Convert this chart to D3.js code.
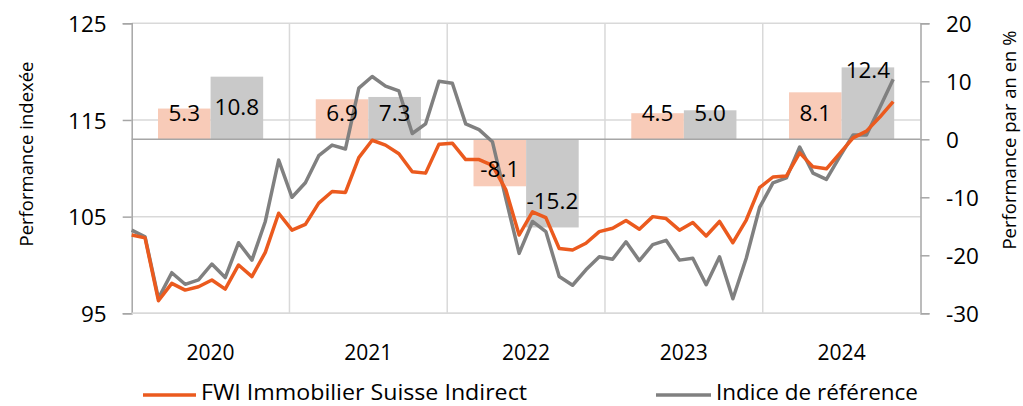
<!DOCTYPE html>
<html>
<head>
<meta charset="utf-8">
<script src="https://cdn.jsdelivr.net/npm/d3@7"></script>
<style>
  html, body { margin: 0; padding: 0; background: #ffffff; }
  svg { display: block; }
  text { font-family: "Open Sans", "Noto Sans", sans-serif; fill: #000; }
</style>
</head>
<body>
<svg id="chart" width="1023" height="406"></svg>
<script>
// ---------------- data ----------------
const years = ["2020", "2021", "2022", "2023", "2024"];
const fwiAnnual = [5.3, 6.9, -8.1, 4.5, 8.1];
const refAnnual = [10.8, 7.3, -15.2, 5.0, 12.4];

const fwiIndex = [
  103.1, 102.8, 96.3, 98.1, 97.4, 97.75, 98.45, 97.5, 100.0, 98.8, 101.3, 105.35,
  103.6, 104.2, 106.4, 107.6, 107.5, 111.1, 112.9, 112.4, 111.5, 109.65, 109.5, 112.5,
  112.6, 110.9, 110.9, 110.3, 107.8, 103.1, 105.5, 104.9, 101.7, 101.55, 102.25, 103.45,
  103.8, 104.6, 103.7, 105.0, 104.8, 103.6, 104.4, 103.0, 104.5, 102.3, 104.65, 108.0,
  109.1, 109.2, 111.6, 110.15, 109.95, 111.55, 113.15, 113.85, 115.3, 116.9
];
const refIndex = [
  103.6, 102.9, 96.55, 99.2, 98.0, 98.45, 100.1, 98.7, 102.3, 100.5, 104.5, 110.85,
  107.0, 108.5, 111.3, 112.4, 112.0, 118.3, 119.5, 118.5, 118.0, 113.6, 114.6, 119.0,
  118.8, 114.6, 114.0, 112.75, 106.9, 101.2, 104.5, 103.45, 98.8, 97.9, 99.5, 100.85,
  100.6, 102.4, 100.45, 102.1, 102.55, 100.5, 100.7, 97.95, 100.85, 96.5, 100.7, 105.95,
  108.5, 109.0, 112.2, 109.5, 108.85, 111.2, 113.45, 113.45, 116.3, 119.2
];

const leftTicks = [95, 105, 115, 125];
const rightTicks = [-30, -20, -10, 0, 10, 20];

const seriesNames = ["FWI Immobilier Suisse Indirect", "Indice de référence"];
const leftTitle = "Performance indexée";
const rightTitle = "Performance par an en %";

// ---------------- layout (not data) ----------------
const L = 131.7, R = 920.5, T = 23.3, B = 313.3;
const lastPointX = 893.2;
const colors = { fwi: "#EB5A1E", ref: "#808080", fwiBar: "#F8CBB8", refBar: "#C9C9C9" };
// vertical anchor of each bar label, in right-axis units
const labelAnchorFwi = [4.6, 4.6, -5.1, 4.6, 4.6];
const labelAnchorRef = [5.6, 4.6, -10.7, 4.6, 12.0];
const FS = 22.5;

const svg = d3.select("#chart");

const yL = d3.scaleLinear().domain([95, 125]).range([B, T]);
const yR = d3.scaleLinear().domain([-30, 20]).range([B, T]);
const xi = d3.scaleLinear().domain([0, fwiIndex.length - 1]).range([L, lastPointX]);
const xYear = d3.scaleBand().domain(years).range([L, R]).paddingInner(0).paddingOuter(0);
const xSeries = d3.scaleBand().domain(["fwi", "ref"]).range([0, xYear.bandwidth()]).paddingInner(0).paddingOuter(0.5);

// ---------------- grid ----------------
const grid = svg.append("g");
grid.selectAll("line.h").data(leftTicks).join("line")
  .attr("x1", L).attr("x2", R)
  .attr("y1", d => yL(d)).attr("y2", d => yL(d))
  .attr("stroke", "#d9d9d9").attr("stroke-width", 1.5);
grid.selectAll("line.v").data(years.slice(1)).join("line")
  .attr("x1", d => xYear(d)).attr("x2", d => xYear(d))
  .attr("y1", T).attr("y2", B)
  .attr("stroke", "#d9d9d9").attr("stroke-width", 1.5);

// ---------------- bars ----------------
const barData = [];
years.forEach((y, i) => {
  barData.push({ year: y, key: "fwi", v: fwiAnnual[i], anchor: labelAnchorFwi[i] });
  barData.push({ year: y, key: "ref", v: refAnnual[i], anchor: labelAnchorRef[i] });
});
svg.append("g").selectAll("rect").data(barData).join("rect")
  .attr("x", d => xYear(d.year) + xSeries(d.key))
  .attr("width", xSeries.bandwidth())
  .attr("y", d => yR(Math.max(0, d.v)))
  .attr("height", d => Math.abs(yR(d.v) - yR(0)))
  .attr("fill", d => d.key === "fwi" ? colors.fwiBar : colors.refBar);

// zero line of the right axis
svg.append("line")
  .attr("x1", L).attr("x2", R).attr("y1", yR(0)).attr("y2", yR(0))
  .attr("stroke", "#a6a6a6").attr("stroke-width", 1.5);

// ---------------- axes ----------------
const axisColor = "#a6a6a6";
const gL = svg.append("g").attr("transform", `translate(${L},0)`)
  .call(d3.axisLeft(yL).tickValues(leftTicks).tickSize(9).tickFormat(d3.format("d")));
const gR = svg.append("g").attr("transform", `translate(${R},0)`)
  .call(d3.axisRight(yR).tickValues(rightTicks).tickSize(9).tickFormat(d => d3.format("d")(d).replace("−", "-")));
[gL, gR].forEach(g => {
  g.select(".domain").attr("stroke", axisColor).attr("stroke-width", 1.5);
  g.selectAll(".tick line").attr("stroke", axisColor).attr("stroke-width", 1.5);
  g.selectAll(".tick text").attr("font-size", FS).attr("font-family", "Open Sans").attr("fill", "#000").attr("dy", "0.36em");
});
gL.selectAll(".tick text").attr("x", -25);
gR.selectAll(".tick text").attr("x", 25.5);
// bottom line
svg.append("line").attr("x1", L).attr("x2", R).attr("y1", B).attr("y2", B)
  .attr("stroke", "#d9d9d9").attr("stroke-width", 1.5);

// year labels
const gX = svg.append("g").attr("transform", `translate(0,${B})`)
  .call(d3.axisBottom(xYear).tickSize(0).tickPadding(0));
gX.select(".domain").remove();
gX.selectAll(".tick text").attr("font-size", 21).attr("font-family", "Open Sans")
  .attr("fill", "#000").attr("y", 47).attr("dy", 0);

// ---------------- lines ----------------
const line = d3.line().x((d, i) => xi(i)).y(d => yL(d));
svg.append("path").datum(refIndex).attr("d", line)
  .attr("fill", "none").attr("stroke", colors.ref).attr("stroke-width", 3.5).attr("stroke-linejoin", "round");
svg.append("path").datum(fwiIndex).attr("d", line)
  .attr("fill", "none").attr("stroke", colors.fwi).attr("stroke-width", 3.5).attr("stroke-linejoin", "round");

// ---------------- bar labels ----------------
svg.append("g").selectAll("text").data(barData).join("text")
  .attr("x", d => xYear(d.year) + xSeries(d.key) + xSeries.bandwidth() / 2)
  .attr("y", d => yR(d.anchor) + 0.36 * FS)
  .attr("text-anchor", "middle")
  .attr("font-size", FS)
  .text(d => d3.format(".1f")(d.v).replace("−", "-"));

// ---------------- titles ----------------
svg.append("text")
  .attr("transform", "translate(33,154) rotate(-90)")
  .attr("text-anchor", "middle").attr("font-size", 18.5)
  .text(leftTitle);
svg.append("text")
  .attr("transform", "translate(1016,140) rotate(-90)")
  .attr("text-anchor", "middle").attr("font-size", 18.5)
  .text(rightTitle);

// ---------------- legend ----------------
const legend = svg.append("g");
const legendItems = [
  { name: seriesNames[0], color: colors.fwi, x1: 143, x2: 196, tx: 201, w: 326 },
  { name: seriesNames[1], color: colors.ref, x1: 656, x2: 711, tx: 716, w: 202 }
];
legendItems.forEach(it => {
  legend.append("line").attr("x1", it.x1).attr("x2", it.x2).attr("y1", 395).attr("y2", 395)
    .attr("stroke", it.color).attr("stroke-width", 3.5);
  legend.append("text").attr("x", it.tx).attr("y", 399.5).attr("font-size", 21.5)
    .attr("textLength", it.w).attr("lengthAdjust", "spacingAndGlyphs")
    .text(it.name);
});
</script>
</body>
</html>
